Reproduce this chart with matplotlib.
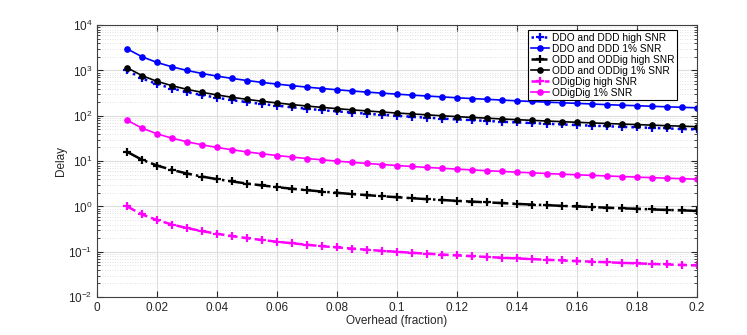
import matplotlib
matplotlib.use("Agg")
import matplotlib.pyplot as plt
from matplotlib.ticker import LogLocator, FixedLocator, NullFormatter

overhead = [0.010, 0.015, 0.020, 0.025, 0.030, 0.035, 0.040, 0.045, 0.050, 0.055,
            0.060, 0.065, 0.070, 0.075, 0.080, 0.085, 0.090, 0.095, 0.100, 0.105,
            0.110, 0.115, 0.120, 0.125, 0.130, 0.135, 0.140, 0.145, 0.150, 0.155,
            0.160, 0.165, 0.170, 0.175, 0.180, 0.185, 0.190, 0.195, 0.200]

ddo_high = [1000, 667, 500, 400, 333, 286, 250, 222, 200, 182, 167, 154, 143, 133,
            125, 118, 111, 105, 100, 95.2, 90.9, 87.0, 83.3, 80, 76.9, 74.1, 71.4,
            69.0, 66.7, 64.5, 62.5, 60.6, 58.8, 57.1, 55.6, 54.1, 52.6, 51.3, 50]
ddo_1pct = [3000, 2000, 1500, 1200, 1000, 857, 750, 667, 600, 545, 500, 462, 429,
            400, 375, 353, 333, 316, 300, 286, 273, 261, 250, 240, 231, 222, 214,
            207, 200, 194, 188, 182, 176, 171, 167, 162, 158, 154, 150]
odd_high = [16, 10.7, 8, 6.4, 5.33, 4.57, 4, 3.56, 3.2, 2.91, 2.67, 2.46, 2.29, 2.13,
            2, 1.88, 1.78, 1.68, 1.6, 1.52, 1.45, 1.39, 1.33, 1.28, 1.23, 1.19, 1.14,
            1.10, 1.07, 1.03, 1.0, 0.97, 0.94, 0.91, 0.89, 0.86, 0.84, 0.82, 0.8]
odd_1pct = [1150, 767, 575, 460, 383, 329, 288, 256, 230, 209, 192, 177, 164, 153,
            144, 135, 128, 121, 115, 110, 105, 100, 95.8, 92, 88.5, 85.2, 82.1, 79.3,
            76.7, 74.2, 71.9, 69.7, 67.6, 65.7, 63.9, 62.2, 60.5, 59.0, 57.5]
odig_high = [1, 0.667, 0.5, 0.4, 0.333, 0.286, 0.25, 0.222, 0.2, 0.182, 0.167, 0.154,
             0.143, 0.133, 0.125, 0.118, 0.111, 0.105, 0.1, 0.0952, 0.0909, 0.087,
             0.0833, 0.08, 0.0769, 0.0741, 0.0714, 0.069, 0.0667, 0.0645, 0.0625,
             0.0606, 0.0588, 0.0571, 0.0556, 0.0541, 0.0526, 0.0513, 0.05]
odig_1pct = [80, 53.3, 40, 32, 26.7, 22.9, 20, 17.8, 16, 14.5, 13.3, 12.3, 11.4, 10.7,
             10, 9.41, 8.89, 8.42, 8, 7.62, 7.27, 6.96, 6.67, 6.4, 6.15, 5.93, 5.71,
             5.52, 5.33, 5.16, 5, 4.85, 4.71, 4.57, 4.44, 4.32, 4.21, 4.10, 4]

labels = ["DDO and DDD high SNR", "DDO and DDD 1% SNR",
          "ODD and ODDig high SNR", "ODD and ODDig 1% SNR",
          "ODigDig high SNR", "ODigDig 1% SNR"]
xticks = [0, 0.02, 0.04, 0.06, 0.08, 0.1, 0.12, 0.14, 0.16, 0.18, 0.2]
xticklabels = ["0", "0.02", "0.04", "0.06", "0.08", "0.1", "0.12", "0.14", "0.16", "0.18", "0.2"]
yticks = [1e-2, 1e-1, 1e0, 1e1, 1e2, 1e3, 1e4]
yexp = [-2, -1, 0, 1, 2, 3, 4]

plt.rcParams["font.family"] = ["Liberation Sans", "DejaVu Sans"]
plt.rcParams["mathtext.default"] = "regular"

fig = plt.figure(figsize=(7.47, 3.35), dpi=100)
ax = fig.add_axes([0.130, 0.113, 0.803, 0.812])

blue = "#0000ff"
mag = "#ff00ff"
plus = dict(marker="+", ms=5.5, mew=1.6)
circ = dict(marker="o", ms=3.8, mew=1.0)
ax.semilogy(overhead, ddo_high, ":", color=blue, lw=1.8, label=labels[0], **plus)
ax.semilogy(overhead, ddo_1pct, "-", color=blue, lw=1.2, label=labels[1], **circ)
ax.semilogy(overhead, odd_high, "-.", color="k", lw=1.8, label=labels[2], **plus)
ax.semilogy(overhead, odd_1pct, "-", color="k", lw=1.2, label=labels[3], **circ)
ax.semilogy(overhead, odig_high, "--", color=mag, lw=1.8, label=labels[4], **plus)
ax.semilogy(overhead, odig_1pct, "-", color=mag, lw=1.2, label=labels[5], **circ)

ax.set_xlim(0, 0.2)
ax.set_ylim(1e-2, 1e4)
ax.xaxis.set_major_locator(FixedLocator(xticks))
ax.set_xticklabels(xticklabels)
ax.yaxis.set_major_locator(FixedLocator(yticks))
ax.set_yticklabels([r"$10^{%d}$" % e for e in yexp])
ax.yaxis.set_minor_locator(LogLocator(base=10, subs=range(2, 10), numticks=20))
ax.yaxis.set_minor_formatter(NullFormatter())

ax.grid(True, which="major", color="#dedede", lw=0.8)
ax.grid(True, which="minor", axis="y", color="#d8d8d8", lw=0.6, ls=(0, (1, 2)))
ax.set_axisbelow(True)
ax.tick_params(which="both", direction="in", top=True, right=True, labelsize=8.5, colors="#262626")
ax.tick_params(which="major", length=4)
ax.tick_params(which="minor", length=2)
for s in ax.spines.values():
    s.set_color("#404040")
    s.set_linewidth(0.8)

ax.set_xlabel("Overhead (fraction)", fontsize=8.5, color="#262626", labelpad=1)
ax.set_ylabel("Delay", fontsize=8.5, color="#262626", labelpad=1)

leg = ax.legend(loc="upper right", bbox_to_anchor=(0.967, 0.982), fontsize=7.3,
                frameon=True, fancybox=False, borderpad=0.25, labelspacing=0.1,
                handlelength=1.8, handletextpad=0.3, borderaxespad=0)
leg.get_frame().set_edgecolor("k")
leg.get_frame().set_linewidth(0.8)
leg.get_frame().set_alpha(1)

fig.savefig("out.png", dpi=100)
